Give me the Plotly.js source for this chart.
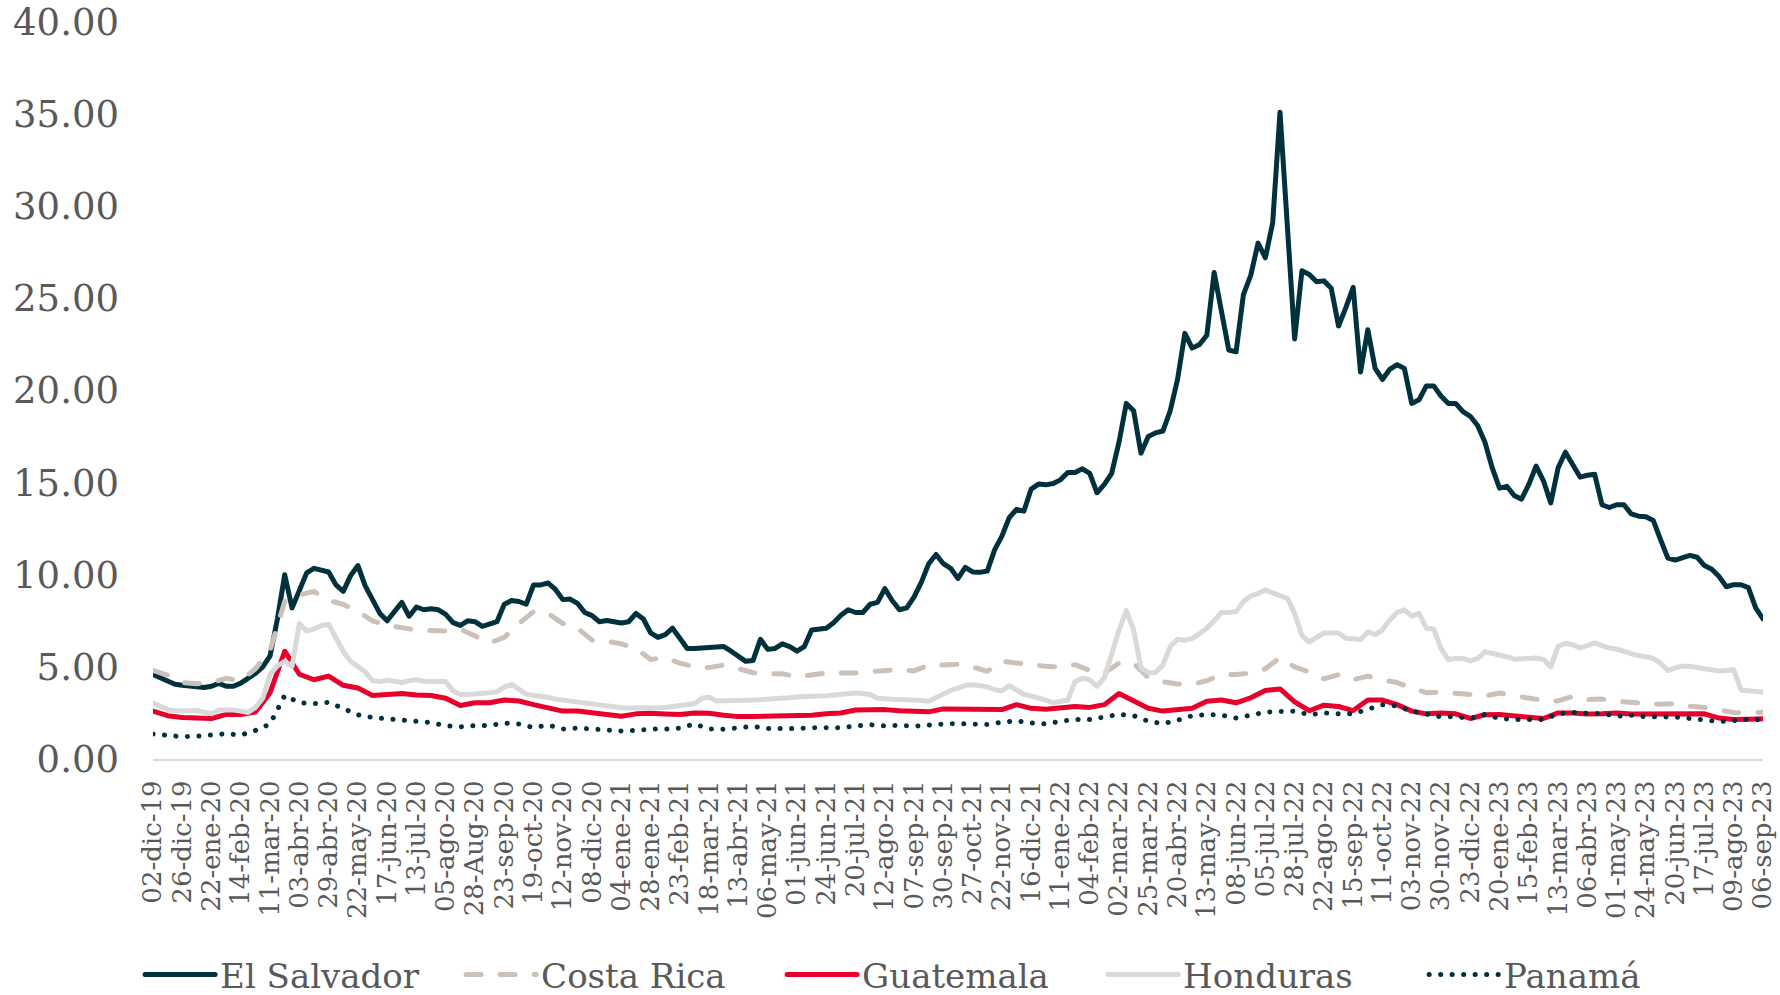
<!DOCTYPE html>
<html>
<head>
<meta charset="utf-8">
<script src="https://cdn.plot.ly/plotly-3.0.1.min.js"></script>
<style>
  html, body { margin: 0; padding: 0; background: #ffffff; }
  #chart { width: 1780px; height: 995px; }
  .scatterlayer path.js-line, .legend path.js-line { stroke-linecap: round; stroke-linejoin: round; }
</style>
</head>
<body>
<div id="chart"></div>
<script>
// Tick labels (one every ~17 trading days)
const tickLabels = ["02-dic-19","26-dic-19","22-ene-20","14-feb-20","11-mar-20","03-abr-20","29-abr-20","22-may-20","17-jun-20","13-jul-20","05-ago-20","28-Aug-20","23-sep-20","19-oct-20","12-nov-20","08-dic-20","04-ene-21","28-ene-21","23-feb-21","18-mar-21","13-abr-21","06-may-21","01-jun-21","24-jun-21","20-jul-21","12-ago-21","07-sep-21","30-sep-21","27-oct-21","22-nov-21","16-dic-21","11-ene-22","04-feb-22","02-mar-22","25-mar-22","20-abr-22","13-may-22","08-jun-22","05-jul-22","28-jul-22","22-ago-22","15-sep-22","11-oct-22","03-nov-22","30-nov-22","23-dic-22","20-ene-23","15-feb-23","13-mar-23","06-abr-23","01-may-23","24-may-23","20-jun-23","17-jul-23","09-ago-23","06-sep-23"];

// El Salvador, sampled every quarter of a label interval
const elSalvador = [4.58,4.4,4.2,4.06, 4.0,3.95,3.92,3.88, 3.95,4.1,3.95,3.95, 4.12,4.35,4.65,5.0, 5.6,7.6,10.0,8.2, 9.1,10.1,10.35,10.25, 10.15,9.45,9.1,9.95, 10.5,9.4,8.7,7.9, 7.5,7.95,8.5,7.75, 8.25,8.1,8.15,8.1, 7.85,7.4,7.25,7.5, 7.45,7.2,7.35,7.45, 8.4,8.6,8.55,8.4, 9.45,9.45,9.55,9.2, 8.65,8.68,8.45,7.95, 7.78,7.45,7.52,7.42, 7.38,7.45,7.9,7.6, 6.85,6.6,6.75,7.1, 6.5,6.0,6.0,6.05, 6.05,6.08,6.1,5.85, 5.6,5.3,5.35,6.5, 5.95,6.0,6.25,6.1, 5.85,6.1,7.0,7.05, 7.1,7.4,7.8,8.1, 7.95,7.95,8.4,8.5, 9.25,8.6,8.1,8.2, 8.8,9.6,10.6,11.1, 10.6,10.35,9.8,10.4, 10.15,10.13,10.2,11.35, 12.1,13.1,13.55,13.45, 14.65,14.92,14.88,14.95, 15.15,15.55,15.55,15.75, 15.5,14.45,14.9,15.5, 17.2,19.3,18.9,16.6, 17.5,17.7,17.8,18.9, 20.6,23.1,22.3,22.5, 23.0,26.4,24.2,22.2, 22.1,25.2,26.25,28.0, 27.2,29.1,35.1,28.5, 22.8,26.5,26.3,25.9, 25.95,25.55,23.5,24.5, 25.6,21.0,23.3,21.2, 20.6,21.15,21.4,21.2, 19.3,19.5,20.25,20.25, 19.7,19.3,19.3,18.85, 18.6,18.1,17.2,15.8, 14.7,14.8,14.3,14.1, 14.9,15.9,15.1,13.9, 15.8,16.65,16.0,15.3, 15.4,15.45,13.8,13.65, 13.8,13.8,13.3,13.18, 13.15,12.95,11.9,10.9, 10.8,10.9,11.05,10.95, 10.5,10.3,9.9,9.35, 9.46,9.46,9.3,8.2, 7.6];

// Honduras, sampled every quarter of a label interval
const honduras = [3.05,2.85,2.68,2.62, 2.6,2.62,2.63,2.55, 2.45,2.66,2.68,2.66, 2.6,2.52,2.8,3.3, 4.6,5.05,5.3,5.03, 7.35,6.95,7.05,7.25, 7.3,6.6,5.85,5.3, 5.0,4.72,4.25,4.2, 4.28,4.22,4.15,4.25, 4.3,4.22,4.22,4.22, 4.2,3.7,3.5,3.5, 3.52,3.57,3.6,3.65, 3.9,4.05,3.8,3.52, 3.45,3.41,3.35,3.25, 3.2,3.15,3.05,3.0, 2.95,2.9,2.85,2.8, 2.78,2.77,2.8,2.78, 2.77,2.77,2.8,2.85, 2.9,2.93,3.0,3.3, 3.35,3.15,3.15,3.17, 3.18,3.19,3.2,3.22, 3.23,3.25,3.28,3.32, 3.36,3.4,3.42,3.42, 3.43,3.46,3.52,3.57, 3.58,3.55,3.5,3.3, 3.25,3.24,3.23,3.23, 3.2,3.17,3.14,3.35, 3.55,3.72,3.85,4.0, 4.03,3.97,3.92,3.76, 3.7,3.98,3.7,3.5, 3.42,3.34,3.2,3.05, 3.1,3.2,4.2,4.38, 4.3,3.95,4.4,5.7, 7.0,8.05,7.0,4.95, 4.68,4.7,5.1,6.1, 6.5,6.45,6.55,6.8, 7.1,7.5,7.95,7.95, 8.0,8.55,8.85,8.98, 9.18,9.02,8.88,8.72, 7.9,6.7,6.35,6.6, 6.84,6.84,6.84,6.55, 6.5,6.48,6.9,6.75, 7.0,7.55,7.95,8.1, 7.75,7.9,7.1,7.05, 6.0,5.4,5.45,5.46, 5.32,5.45,5.82,5.75, 5.66,5.55,5.42,5.45, 5.48,5.48,5.4,5.0, 6.1,6.28,6.2,6.03, 6.15,6.3,6.15,6.02, 5.97,5.85,5.7,5.6, 5.55,5.46,5.2,4.8, 4.95,5.03,5.03,4.98, 4.88,4.82,4.77,4.8, 4.85,3.75,3.7,3.68, 3.62];

// Costa Rica, sampled every half label interval
const costaRica = [4.81,4.55, 4.15,4.09, 4.15,4.38, 4.25,4.9, 5.9,8.55, 8.9,9.1, 8.6,8.4, 8.0,7.5, 7.25,7.15, 7.0,6.97, 6.95,7.05, 6.7,6.3, 6.6,7.35, 8.0,7.9, 7.35,7.1, 6.45,6.39, 6.25,6.0, 5.4,5.5, 5.2,5.0, 4.96,5.1, 4.9,4.68, 4.63,4.63, 4.45,4.55, 4.67,4.67, 4.67,4.75, 4.82,4.85, 4.78,5.1, 5.1,5.15, 5.0,4.76, 5.3,5.2, 5.07,5.03, 5.0,5.12, 4.8,4.67, 5.2,5.2, 4.42,4.2, 4.07,4.05, 4.25,4.58, 4.58,4.66, 4.9,5.5, 5.0,4.72, 4.35,4.58, 4.3,4.5, 4.3,4.15, 3.85,3.6, 3.62,3.58, 3.5,3.42, 3.58,3.43, 3.3,3.18, 3.15,3.4, 3.22,3.25, 3.13,3.09, 3.0,2.97, 3.0,2.86, 2.8,2.65, 2.52,2.5, 2.54];

// Guatemala, sampled every half label interval
const guatemala = [2.6,2.35, 2.25,2.25, 2.2,2.42, 2.41,2.55, 3.6,5.85, 4.6,4.3, 4.5,4.0, 3.85,3.45, 3.5,3.55, 3.47,3.45, 3.3,2.9, 3.05,3.05, 3.2,3.15, 2.95,2.8, 2.6,2.6, 2.5,2.41, 2.32,2.45, 2.48,2.44, 2.41,2.5, 2.48,2.38, 2.3,2.31, 2.32,2.32, 2.33,2.38, 2.45,2.5, 2.66,2.68, 2.68,2.62, 2.57,2.56, 2.72,2.7, 2.68,2.68, 2.68,2.95, 2.75,2.7, 2.75,2.85, 2.8,2.95, 3.55,3.15, 2.75,2.6, 2.7,2.76, 3.14,3.2, 3.05,3.32, 3.72,3.8, 3.1,2.62, 2.92,2.85, 2.63,3.2, 3.2,2.95, 2.6,2.45, 2.5,2.45, 2.2,2.4, 2.42,2.32, 2.27,2.2, 2.5,2.5, 2.44,2.45, 2.5,2.44, 2.45,2.45, 2.45,2.5, 2.45,2.22, 2.14,2.16, 2.18];

// Panamá, sampled every half label interval
const panama = [1.36,1.27, 1.21,1.24, 1.28,1.37, 1.3,1.55, 1.9,3.45, 3.05,3.0, 3.08,2.75, 2.4,2.25, 2.18,2.12, 2.09,1.98, 1.8,1.75, 1.82,1.82, 1.95,1.9, 1.71,1.84, 1.63,1.68, 1.63,1.55, 1.52,1.55, 1.63,1.62, 1.68,1.9, 1.63,1.62, 1.67,1.77, 1.66,1.63, 1.66,1.69, 1.7,1.7, 1.79,1.86, 1.8,1.83, 1.78,1.87, 1.9,1.92, 1.87,1.87, 2.0,2.07, 1.96,1.9, 2.05,2.14, 2.14,2.25, 2.42,2.35, 2.05,1.92, 2.1,2.35, 2.41,2.38, 2.22,2.38, 2.54,2.58, 2.6,2.4, 2.5,2.45, 2.45,2.7, 2.95,2.88, 2.6,2.44, 2.29,2.3, 2.2,2.42, 2.2,2.15, 2.18,2.15, 2.45,2.53, 2.48,2.47, 2.32,2.38, 2.29,2.31, 2.28,2.2, 2.12,2.03, 2.08,2.16, 2.12];

const yTicks = [0, 5, 10, 15, 20, 25, 30, 35, 40];

// Sample positions, measured in label intervals along the category axis
const xQuarter = elSalvador.map((_, k) => k / 4);
const xHalf = costaRica.map((_, k) => k / 2);
const tickPos = tickLabels.map((_, k) => k);

const FONT = "'DejaVu Serif', 'Liberation Serif', serif";
const GREY = "#595959";
const LW = 5;

const traces = [
  { name: "El Salvador", x: xQuarter, y: elSalvador, type: "scatter", mode: "lines",
    line: { color: "#00313d", width: LW } },
  { name: "Costa Rica", x: xHalf, y: costaRica, type: "scatter", mode: "lines",
    line: { color: "#cbc1b9", width: LW, dash: "15px,19px" } },
  { name: "Guatemala", x: xHalf, y: guatemala, type: "scatter", mode: "lines",
    line: { color: "#e6002b", width: LW } },
  { name: "Honduras", x: xQuarter, y: honduras, type: "scatter", mode: "lines",
    line: { color: "#d9d9d9", width: LW } },
  { name: "Panamá", x: xHalf, y: panama, type: "scatter", mode: "lines",
    line: { color: "#00313d", width: LW, dash: "0.1px,11.4px" } }
];

const layout = {
  width: 1780,
  height: 995,
  margin: { l: 153, r: 17, t: 22, b: 236, autoexpand: false },
  paper_bgcolor: "#ffffff",
  plot_bgcolor: "#ffffff",
  font: { family: FONT, color: GREY },
  showlegend: true,
  legend: {
    orientation: "h",
    x: -0.008, xanchor: "left",
    y: -0.293, yanchor: "middle",
    font: { family: FONT, size: 34, color: GREY },
    itemwidth: 70,
    entrywidth: 236,
    entrywidthmode: "pixels",
    traceorder: "normal",
    bgcolor: "rgba(0,0,0,0)"
  },
  xaxis: {
    type: "linear",
    range: [0, 55],
    tickmode: "array",
    tickvals: tickPos,
    ticktext: tickLabels,
    tickangle: -90,
    tickfont: { family: FONT, size: 26, color: GREY },
    ticks: "",
    ticklabelstandoff: 9,
    automargin: false,
    showgrid: false,
    zeroline: false,
    showline: true,
    linecolor: "#d9d9d9",
    linewidth: 2,
    fixedrange: true
  },
  yaxis: {
    range: [0, 40],
    tickmode: "array",
    tickvals: yTicks,
    tickformat: ".2f",
    tickfont: { family: FONT, size: 37, color: GREY },
    ticks: "",
    ticklabelstandoff: 33,
    automargin: false,
    showgrid: false,
    zeroline: false,
    showline: false,
    fixedrange: true
  }
};

Plotly.newPlot("chart", traces, layout, { displayModeBar: false, staticPlot: true });
</script>
</body>
</html>
